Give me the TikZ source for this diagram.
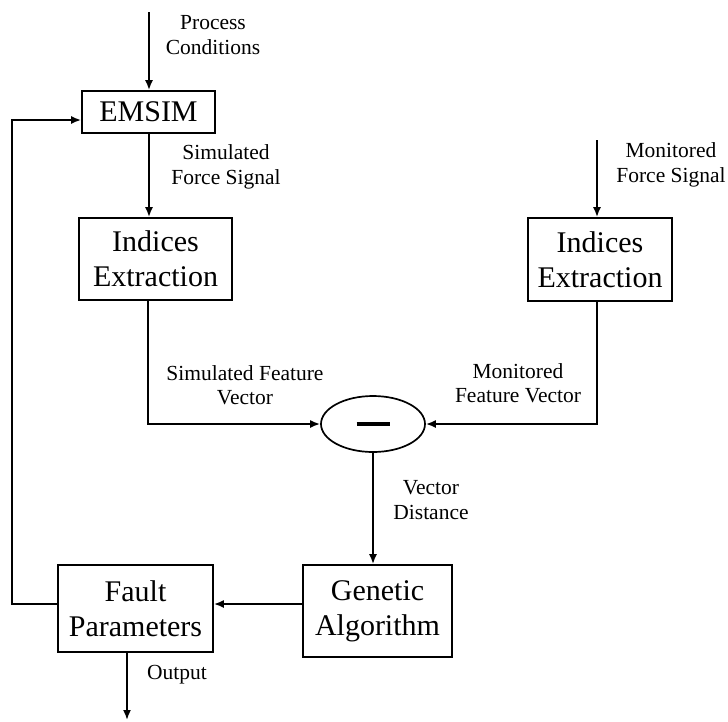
\documentclass[tikz,border=0pt]{standalone}
\usepackage{fontspec}
\setmainfont{Liberation Serif}
\usepackage{tikz}
\usetikzlibrary{arrows.meta,positioning,calc,shapes.geometric}

\begin{document}
\begin{tikzpicture}[x=1pt, y=-1pt,
    box/.style={draw, line width=1.7pt, align=center, inner sep=0pt,
        font=\fontsize{30}{35}\selectfont},
    lbl/.style={align=center, inner sep=0pt, font=\fontsize{21.5}{24.5}\selectfont},
    flow/.style={line width=1.8pt, -{Latex[length=10pt,width=8pt]}}]
    \useasboundingbox (0,0) rectangle (728,721);

    % Blocks
    \node[box, minimum width=133pt, minimum height=42pt] (emsim) at (148.5,112) {EMSIM};
    \node[box, minimum width=153pt, minimum height=82pt] (ixsim) at (155.5,259) {Indices\\Extraction};
    \node[box, minimum width=144pt, minimum height=83pt] (ixmon) at (600,259.5) {Indices\\Extraction};
    \node[ellipse, draw, line width=1.7pt, minimum width=104pt, minimum height=56pt, inner sep=0pt] (diff) at (373,424) {\rule{33pt}{3.5pt}};
    \node[box, minimum width=149pt, minimum height=92pt] (ga) at (377.5,611) {Genetic\\Algorithm};
    \node[box, minimum width=155pt, minimum height=87pt] (fault) at (135.5,608.5) {Fault\\Parameters};

    % Free ends
    \coordinate (pin) at (149,12);
    \coordinate (mon) at (597,140);
    \coordinate (lsim) at (148,425);
    \coordinate (gy) at (0,604);
    \coordinate (fb) at (12,120);
    \coordinate (out) at (127,720);

    % Connectors
    \draw[flow] (pin) -- (pin |- emsim.north);
    \draw[flow] (emsim.south -| pin) -- (pin |- ixsim.north);
    \draw[flow] (ixsim.south -| lsim) |- (diff.west);
    \draw[flow] (mon) -- (mon |- ixmon.north);
    \draw[flow] (ixmon.south -| mon) |- (diff.east);
    \draw[flow] (diff.south) -- (diff.south |- ga.north);
    \draw[flow] (ga.west |- gy) -- (fault.east |- gy);
    \draw[flow] (fault.west |- gy) -| (fb) -- (emsim.west |- fb);
    \draw[flow] (fault.south -| out) -- (out);

    % Labels
    \node[lbl] (lcond) at (213,35) {Process\\Conditions};
    \node[lbl] (lsimf) at (226,167) {Simulated\\Force Signal};
    \node[lbl] (lmonf) at (671,165) {Monitored\\Force Signal};
    \node[lbl] (lsimv) at (245,385) {Simulated Feature\\Vector};
    \node[lbl] (lmonv) at (518,383) {Monitored\\Feature Vector};
    \node[lbl] (ldist) at (431,500) {Vector\\Distance};
    \node[lbl] (lout) at (177,675) {Output};
\end{tikzpicture}
\end{document}
